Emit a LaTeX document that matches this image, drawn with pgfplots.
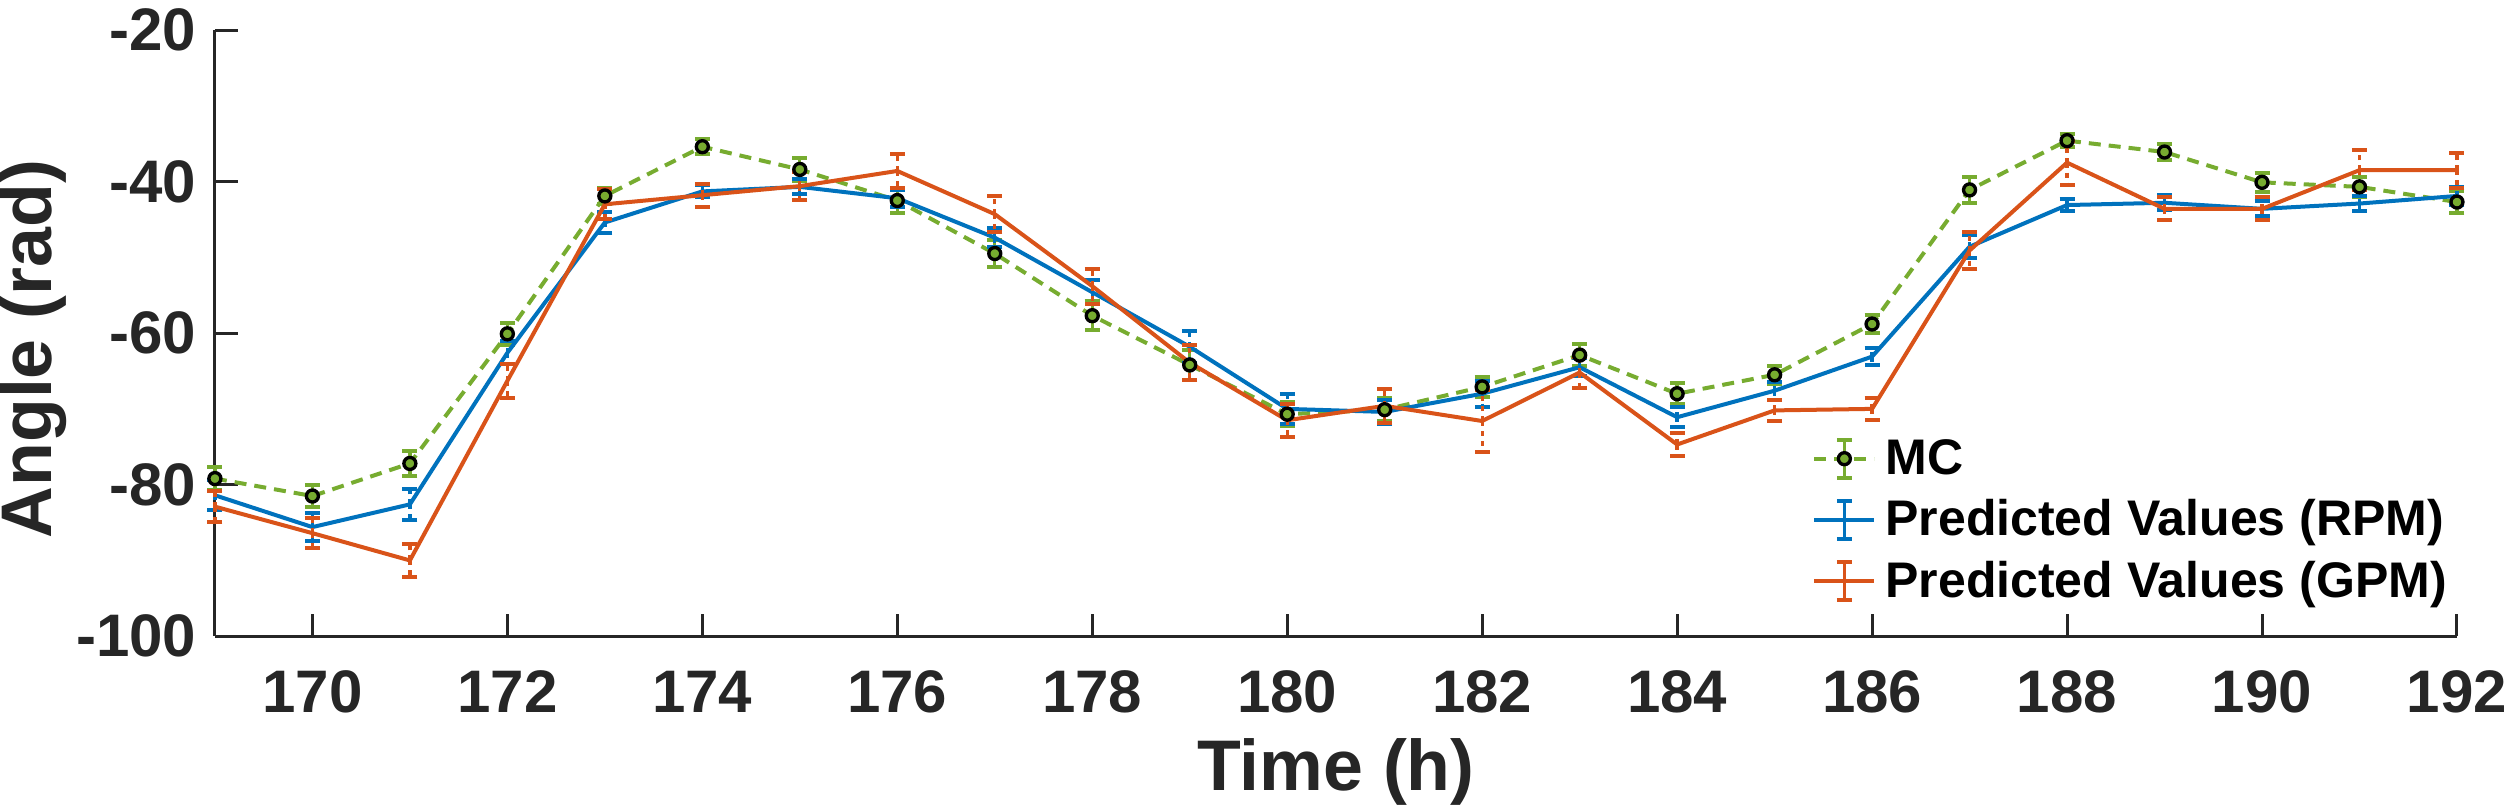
\documentclass[border=0pt]{standalone}
\usepackage{fontspec}
\setmainfont{Liberation Sans}
\usepackage{pgfplots}
\pgfplotsset{compat=1.18}
\usepackage{pgfplotstable}
\definecolor{mblue}{rgb}{0,0.447,0.741}
\definecolor{morange}{rgb}{0.85,0.325,0.098}
\definecolor{mgreen}{rgb}{0.466,0.674,0.188}
\definecolor{axgray}{HTML}{262626}
\newcommand{\lstrut}{\rule[-3.5pt]{0pt}{14.5pt}}

\pgfplotstableread{
h   mc     mce   rpm    rpme  gpm    gpme
169 -79.2  1.5   -81.4  2.0   -82.9  2.0
170 -81.5  1.4   -85.6  1.8   -86.4  2.0
171 -77.2  1.6   -82.6  2.0   -90.0  2.2
172 -60.1  1.5   -62.6  1.5   -66.3  2.2
173 -41.9  1.1   -45.4  1.4   -43.0  2.0
174 -35.4  1.0   -41.3  0.8   -41.8  1.5
175 -38.4  1.5   -40.7  1.0   -40.6  1.8
176 -42.5  1.7   -42.2  1.1   -38.6  2.3
177 -49.5  1.75  -47.4  1.3   -44.3  2.4
178 -57.7  1.9   -54.6  1.6   -53.8  2.3
179 -64.2  2.0   -61.8  2.1   -63.9  2.3
180 -70.7  1.6   -70.0  2.0   -71.5  2.2
181 -70.1  1.5   -70.4  1.6   -69.6  2.2
182 -67.1  1.3   -68.0  1.7   -71.6  4.1
183 -62.9  1.5   -64.5  1.2   -65.2  2.0
184 -68.0  1.4   -71.1  1.3   -74.7  1.5
185 -65.5  1.2   -67.6  1.2   -70.2  1.4
186 -58.8  1.2   -63.1  1.1   -70.0  1.5
187 -41.1  1.7   -48.6  1.5   -49.1  2.5
188 -34.6  0.9   -43.1  0.8   -37.5  2.9
189 -36.1  1.0   -42.8  1.0   -43.6  1.5
190 -40.1  1.25  -43.6  1.0   -43.6  1.5
191 -40.7  1.3   -42.9  1.0   -38.5  2.6
192 -42.7  1.5   -41.9  1.2   -38.5  2.3
}\data

\begin{document}
\begin{tikzpicture}
\begin{axis}[
  scale only axis, width=672.4pt, height=181.8pt,
  xmin=169, xmax=192, ymin=-100, ymax=-20,
  xtick={170,172,...,192}, ytick={-100,-80,...,-20},
  axis lines=left,
  axis line style={-, line width=0.9pt, draw=axgray},
  tick align=inside, major tick length=6.8pt,
  tick style={line width=0.9pt, draw=axgray},
  /pgf/number format/assume math mode=true,
  /pgf/number format/1000 sep={},
  tick label style={font=\fontsize{18}{20}\selectfont\bfseries, text=axgray, inner sep=0pt},
  xticklabel style={anchor=base, yshift=-22.8pt},
  yticklabel style={anchor=east, xshift=-5.4pt},
  every axis x label/.style={at={(axis description cs:0.5,-0.254)}, anchor=base, inner sep=0pt, font=\fontsize{21.5}{24}\selectfont\bfseries, text=axgray},
  every axis y label/.style={at={(axis description cs:-0.0727,0.4735)}, rotate=90, anchor=base, inner sep=0pt, font=\fontsize{21.5}{24}\selectfont\bfseries, text=axgray},
  xlabel={Time (h)}, ylabel={Angle (rad)},
  clip=false,
  legend style={draw=none, fill=none, inner sep=0pt, outer sep=0pt,
    at={(axis description cs:0.7125,0.3275)}, anchor=north west,
    font=\fontsize{15}{16}\selectfont\bfseries, row sep=5.8pt, column sep=2.7pt,
    nodes={inner sep=0pt}},
  legend cell align=left,
]
\path (axis description cs:0,1) -- ++(0pt,9pt);
\addplot[mgreen, line width=1.2pt, dash pattern=on 3.6pt off 2.4pt,
  mark=*, mark size=1.8pt, mark options={solid, draw=black, fill=mgreen, line width=1pt},
  legend image code/.code={
    \draw[mgreen, line width=1.2pt, dash pattern=on 3.6pt off 2.4pt] (0pt,0pt) -- (18pt,0pt);
    \draw[mgreen, line width=1pt, solid] (9pt,-5.7pt) -- (9pt,5.7pt);
    \draw[mgreen, line width=1.2pt, solid] (6.75pt,-5.7pt) -- (11.25pt,-5.7pt) (6.75pt,5.7pt) -- (11.25pt,5.7pt);
    \draw[black, fill=mgreen, line width=1pt, solid] (9pt,0pt) circle (1.8pt);
  },
  error bars/.cd, y dir=both, y explicit, error mark=|,
  error bar style={solid, line width=1pt, mgreen},
  error mark options={solid, line width=1.2pt, mark size=2.25pt, mgreen}]
  table[x=h, y=mc, y error=mce]{\data};
\addlegendentry{\lstrut MC}
\addplot[mblue, line width=1.2pt,
  legend image code/.code={
    \draw[mblue, line width=1.2pt, solid] (0pt,0pt) -- (18pt,0pt);
    \draw[mblue, line width=1pt, solid] (9pt,-5.7pt) -- (9pt,5.7pt);
    \draw[mblue, line width=1.2pt, solid] (6.75pt,-5.7pt) -- (11.25pt,-5.7pt) (6.75pt,5.7pt) -- (11.25pt,5.7pt);
  },
  error bars/.cd, y dir=both, y explicit, error mark=|,
  error bar style={line width=1pt, dash pattern=on 1.5pt off 1.5pt, mblue},
  error mark options={solid, line width=1.2pt, mark size=2.25pt, mblue}]
  table[x=h, y=rpm, y error=rpme]{\data};
\addlegendentry{\lstrut Predicted Values (RPM)}
\addplot[morange, line width=1.2pt,
  legend image code/.code={
    \draw[morange, line width=1.2pt, solid] (0pt,0pt) -- (18pt,0pt);
    \draw[morange, line width=1pt, solid] (9pt,-5.7pt) -- (9pt,5.7pt);
    \draw[morange, line width=1.2pt, solid] (6.75pt,-5.7pt) -- (11.25pt,-5.7pt) (6.75pt,5.7pt) -- (11.25pt,5.7pt);
  },
  error bars/.cd, y dir=both, y explicit, error mark=|,
  error bar style={line width=1pt, dash pattern=on 1.5pt off 1.5pt, morange},
  error mark options={solid, line width=1.2pt, mark size=2.25pt, morange}]
  table[x=h, y=gpm, y error=gpme]{\data};
\addlegendentry{\lstrut Predicted Values (GPM)}
\end{axis}
\end{tikzpicture}
\end{document}
